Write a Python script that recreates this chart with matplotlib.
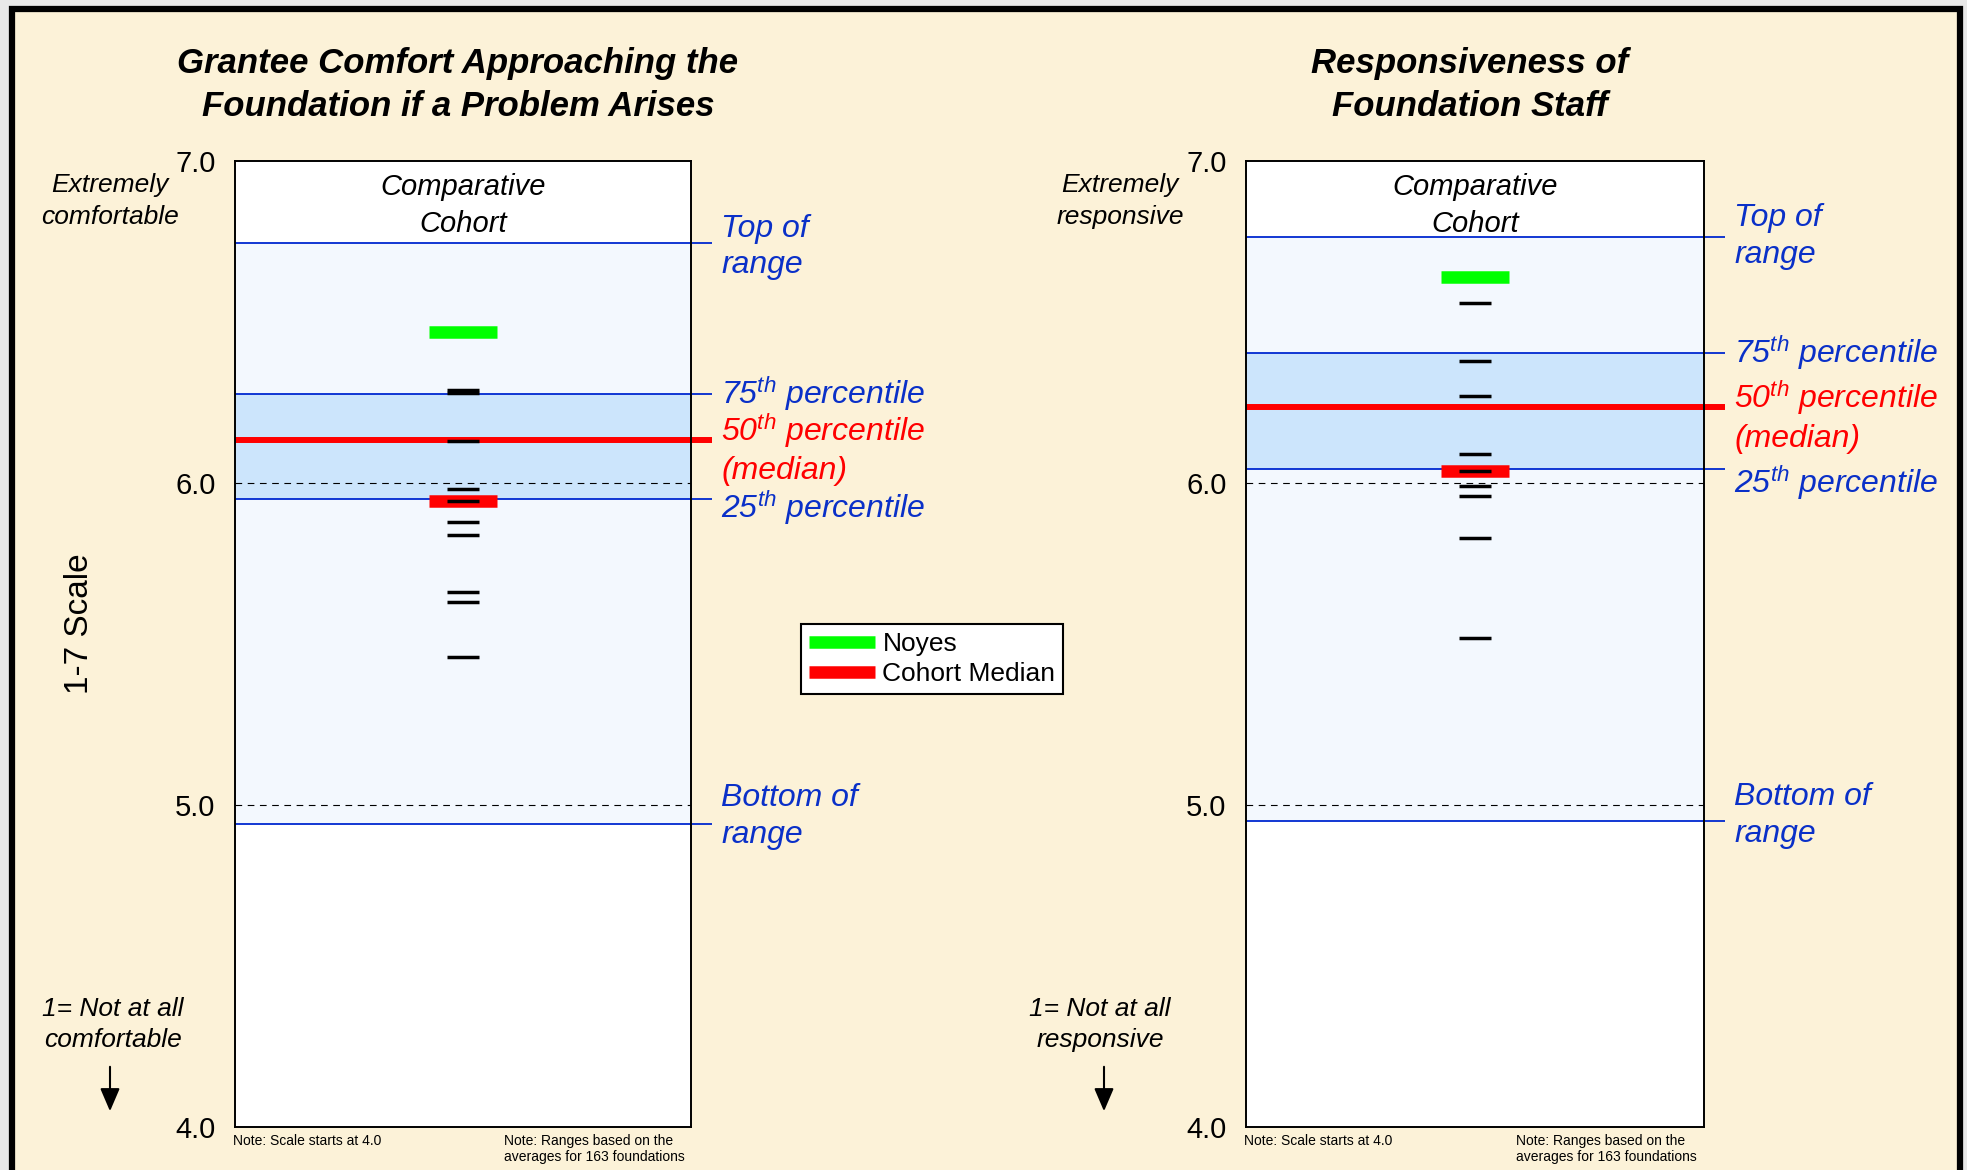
import matplotlib
matplotlib.use("Agg")
import matplotlib.pyplot as plt
from matplotlib.lines import Line2D
from matplotlib.patches import Rectangle, FancyArrowPatch
import matplotlib.transforms as mtransforms

plt.rcParams['font.family'] = ['Liberation Sans', 'DejaVu Sans']
plt.rcParams['mathtext.fontset'] = 'custom'
plt.rcParams['mathtext.rm'] = 'Liberation Sans'
plt.rcParams['mathtext.it'] = 'Liberation Sans:italic'

# ---------------- data ----------------
titles = ["Grantee Comfort Approaching the\nFoundation if a Problem Arises",
          "Responsiveness of\nFoundation Staff"]
top_labels = ["Extremely\ncomfortable", "Extremely\nresponsive"]
bottom_labels = ["1= Not at all\ncomfortable", "1= Not at all\nresponsive"]

left_range_top = 6.745
left_p75 = 6.275
left_p50 = 6.133
left_p25 = 5.950
left_range_bottom = 4.94
left_noyes = 6.47
left_cohort_median = 5.943
left_cohort = [6.29, 6.28, 6.13, 5.98, 5.943, 5.88, 5.84, 5.66, 5.63, 5.46]

right_range_top = 6.765
right_p75 = 6.405
right_p50 = 6.237
right_p25 = 6.042
right_range_bottom = 4.95
right_noyes = 6.64
right_cohort_median = 6.037
right_cohort = [6.56, 6.38, 6.27, 6.09, 6.037, 5.99, 5.96, 5.83, 5.52]

yticks = [4.0, 5.0, 6.0, 7.0]
ytick_labels = ["4.0", "5.0", "6.0", "7.0"]
legend_labels = ["Noyes", "Cohort Median"]

# ---------------- style ----------------
BG = '#FCF2D8'
BLUE = '#0A30C8'
LINEBLUE = '#0028D0'
RED = '#FF0000'
GREEN = '#00FF00'
LIGHT = '#F3F8FE'
MID = '#CCE5FC'

fig = plt.figure(figsize=(19.67, 11.70), dpi=100)
fig.patch.set_facecolor('#E8E8E8')
frame = Rectangle((11.5 / 1967, -0.05), (1960 - 11.5) / 1967, 1.05 - 8.5 / 1170,
                  transform=fig.transFigure, facecolor=BG, edgecolor='black',
                  lw=4.5, zorder=-10)
fig.patches.append(frame)

axes_pos = [[235 / 1967, 1 - 1127 / 1170, 456 / 1967, 966 / 1170],
            [1246 / 1967, 1 - 1127 / 1170, 458 / 1967, 966 / 1170]]

panels = [
    dict(top=left_range_top, p75=left_p75, p50=left_p50, p25=left_p25,
         bottom=left_range_bottom, noyes=left_noyes, cmed=left_cohort_median,
         cohort=left_cohort,
         offs=dict(top=-0.012, p75=0.004, p50=-0.026, p25=-0.027, bottom=0.023)),
    dict(top=right_range_top, p75=right_p75, p50=right_p50, p25=right_p25,
         bottom=right_range_bottom, noyes=right_noyes, cmed=right_cohort_median,
         cohort=right_cohort,
         offs=dict(top=0.0, p75=0.0, p50=-0.03, p25=-0.04, bottom=0.016)),
]

label_x = 1.066
ext = 1.046

for i, p in enumerate(panels):
    ax = fig.add_axes(axes_pos[i])
    ax.set_facecolor('white')
    ax.set_xlim(0, 1)
    ax.set_ylim(4.0, 7.0)
    ax.set_xticks([])
    ax.set_yticks(yticks)
    ax.set_yticklabels(ytick_labels, fontsize=21)
    ax.tick_params(axis='y', length=0, pad=14)
    for s in ax.spines.values():
        s.set_linewidth(1.4)
        s.set_color('black')
        s.set_zorder(10)

    # range bands
    ax.axhspan(p['bottom'], p['top'], color=LIGHT, zorder=0, lw=0)
    ax.axhspan(p['p25'], p['p75'], color=MID, zorder=0.5, lw=0)
    # dashed reference lines
    for v in [5.0, 6.0]:
        ax.axhline(v, color='black', lw=0.8, ls=(0, (6, 5)), zorder=1)
    # range lines, extended past the axes
    for key in ['top', 'p75', 'p25', 'bottom']:
        ax.plot([0, ext], [p[key], p[key]], color=LINEBLUE, lw=1.3,
                clip_on=False, zorder=2, solid_capstyle='butt')
    ax.plot([0, ext], [p['p50'], p['p50']], color=RED, lw=4.3,
            clip_on=False, zorder=3, solid_capstyle='butt')

    # markers
    ax.hlines([p['noyes']], 0.426, 0.574, colors=GREEN, lw=9, zorder=4)
    ax.hlines([p['cmed']], 0.426, 0.574, colors=RED, lw=9, zorder=4)
    ax.hlines(p['cohort'], 0.464, 0.536, colors='black', lw=2.5, zorder=5)

    # header
    ax.text(0.5, 6.862, "Comparative\nCohort", ha='center', va='center',
            fontsize=21, fontstyle='italic', linespacing=1.4, zorder=6)

    # right-side labels
    tr = mtransforms.blended_transform_factory(ax.transAxes, ax.transData)
    o = p['offs']
    kw = dict(transform=tr, ha='left', va='center', fontsize=23,
              fontstyle='italic', linespacing=1.3, clip_on=False)
    ax.text(label_x, p['top'] + o['top'], "Top of\nrange", color=BLUE, **kw)
    ax.text(label_x, p['p75'] + o['p75'], r"75$^{\mathit{th}}$ percentile", color=BLUE, **kw)
    ax.text(label_x, p['p50'] + o['p50'], "50$^{\\mathit{th}}$ percentile\n(median)", color=RED, **kw)
    ax.text(label_x, p['p25'] + o['p25'], r"25$^{\mathit{th}}$ percentile", color=BLUE, **kw)
    ax.text(label_x, p['bottom'] + o['bottom'], "Bottom of\nrange", color=BLUE, **kw)

    # notes
    ax.annotate("Note: Scale starts at 4.0", xy=(-0.005, 0), xycoords='axes fraction',
                xytext=(0, -5), textcoords='offset points', ha='left', va='top',
                fontsize=10)
    ax.annotate("Note: Ranges based on the\naverages for 163 foundations",
                xy=(0.59, 0), xycoords='axes fraction', xytext=(0, -5),
                textcoords='offset points', ha='left', va='top', fontsize=10,
                linespacing=1.18)

# titles
title_x = [458 / 1967, 1470 / 1967]
for i in range(2):
    fig.text(title_x[i], 1 - 85 / 1170, titles[i], ha='center', va='center',
             fontsize=25, fontweight='bold', fontstyle='italic', linespacing=1.38)

# side labels
top_x = [110 / 1967, 1120 / 1967]
bot_x = [113 / 1967, 1100 / 1967]
arrow_x = [110 / 1967, 1104 / 1967]
for i in range(2):
    fig.text(top_x[i], 1 - 201 / 1170, top_labels[i], ha='center', va='center',
             fontsize=19, fontstyle='italic', linespacing=1.4)
    fig.text(bot_x[i], 1 - 1024.5 / 1170, bottom_labels[i], ha='center', va='center',
             fontsize=19, fontstyle='italic', linespacing=1.38)
    arr = FancyArrowPatch((arrow_x[i], 1 - 1064 / 1170), (arrow_x[i], 1 - 1114 / 1170),
                          transform=fig.transFigure, arrowstyle='-|>,head_length=14,head_width=6',
                          color='black', lw=1.5, mutation_scale=1)
    fig.patches.append(arr)

fig.text(79 / 1967, 1 - 624 / 1170, "1-7 Scale", rotation=90, ha='center', va='center',
         fontsize=24)

# legend
handles = [Line2D([0], [0], color=GREEN, lw=9, solid_capstyle='butt'),
           Line2D([0], [0], color=RED, lw=9, solid_capstyle='butt')]
leg = fig.legend(handles, legend_labels, loc='center',
                 bbox_to_anchor=(932 / 1967, 1 - 659 / 1170), fontsize=19,
                 frameon=True, fancybox=False, edgecolor='black', framealpha=1,
                 handlelength=2.5, handletextpad=0.3, labelspacing=0.22,
                 borderpad=0.3, borderaxespad=0)
leg.get_frame().set_linewidth(1.5)

fig.savefig("out.png", dpi=100, facecolor=fig.get_facecolor())
